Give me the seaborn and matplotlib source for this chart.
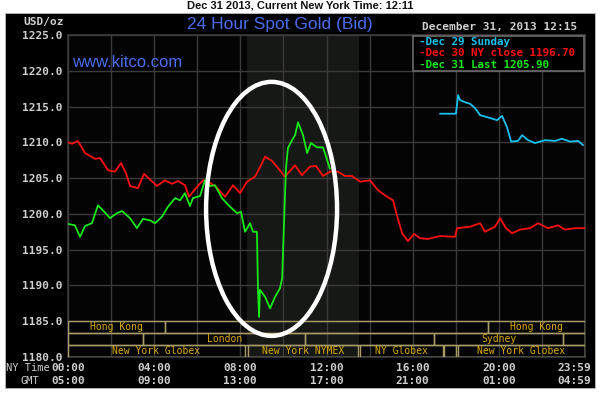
import matplotlib
matplotlib.use("Agg")
import matplotlib.pyplot as plt
import matplotlib.patches as mpatches
import matplotlib.transforms as mtrans
import seaborn as sns
import pandas as pd

# ---------------- data ----------------
red_hours = [0.00, 0.19, 0.46, 0.79, 1.25, 1.49, 1.86, 2.18, 2.46, 2.69, 2.88, 3.25, 3.53, 3.81,
             4.13, 4.50, 4.83, 5.11, 5.43, 5.62, 5.94, 6.27, 6.50, 6.87, 7.29, 7.66, 7.99, 8.31,
             8.68, 8.96, 9.15, 9.47, 9.75, 10.07, 10.54, 10.86, 11.23, 11.51, 11.84, 12.16, 12.53,
             12.86, 13.18, 13.56, 14.02, 14.39, 14.81, 15.09, 15.27, 15.51, 15.78, 16.06, 16.34,
             16.71, 17.27, 17.97, 18.06, 18.66, 19.13, 19.36, 19.82, 20.06, 20.33, 20.61, 20.98,
             21.45, 21.82, 22.28, 22.75, 23.07, 23.54, 24.00]
red_price = [1210.0, 1209.8, 1210.2, 1208.5, 1207.7, 1207.8, 1206.1, 1205.9, 1207.1, 1205.7, 1203.9,
             1203.6, 1205.6, 1204.8, 1203.9, 1204.7, 1204.2, 1204.6, 1204.0, 1202.4, 1203.6, 1204.7,
             1204.5, 1203.8, 1202.4, 1204.0, 1202.9, 1204.5, 1205.2, 1206.8, 1208.0, 1207.4, 1206.4,
             1205.2, 1206.8, 1205.4, 1206.6, 1206.7, 1205.3, 1205.9, 1205.9, 1205.3, 1205.3, 1204.5,
             1204.7, 1203.3, 1202.4, 1201.9, 1199.8, 1197.3, 1196.2, 1197.2, 1196.6, 1196.5, 1196.9,
             1196.8, 1198.0, 1198.2, 1198.7, 1197.5, 1198.2, 1199.4, 1198.0, 1197.3, 1197.8, 1198.0,
             1198.7, 1198.0, 1198.4, 1197.8, 1198.0, 1198.0]

green_hours = [0.00, 0.32, 0.56, 0.79, 1.11, 1.39, 1.62, 1.95, 2.27, 2.51, 2.88, 3.20, 3.48, 3.81,
               4.04, 4.36, 4.64, 4.97, 5.20, 5.43, 5.66, 5.80, 6.13, 6.36, 6.59, 6.82, 7.15, 7.52,
               7.85, 8.03, 8.22, 8.45, 8.59, 8.77, 8.82, 8.87, 8.91, 9.15, 9.38, 9.61, 9.84, 9.94,
               10.07, 10.12, 10.21, 10.40, 10.54, 10.68, 10.91, 11.10, 11.28, 11.56, 11.84, 12.16]
green_price = [1198.6, 1198.4, 1196.8, 1198.3, 1198.7, 1201.2, 1200.5, 1199.4, 1200.1, 1200.4,
               1199.4, 1198.0, 1199.3, 1199.1, 1198.7, 1199.6, 1201.0, 1202.2, 1201.9, 1202.9,
               1201.1, 1202.2, 1202.5, 1204.7, 1203.9, 1204.0, 1202.2, 1201.0, 1200.1, 1200.3,
               1197.5, 1198.7, 1197.5, 1197.5, 1189.4, 1185.6, 1189.4, 1188.4, 1186.8, 1188.4,
               1189.6, 1191.0, 1202.4, 1206.4, 1209.2, 1210.3, 1211.0, 1212.8, 1211.0, 1208.5,
               1209.9, 1209.3, 1209.3, 1206.3]

cyan_hours = [17.27, 18.01, 18.11, 18.20, 18.43, 18.66, 18.89, 19.13, 19.59, 19.92, 20.15, 20.38,
              20.57, 20.89, 21.08, 21.36, 21.68, 22.14, 22.61, 22.93, 23.31, 23.68, 23.91]
cyan_price = [1214.0, 1214.0, 1216.6, 1215.9, 1215.6, 1215.4, 1214.8, 1213.8, 1213.4, 1213.1,
              1213.7, 1212.1, 1210.1, 1210.2, 1211.0, 1210.3, 1209.9, 1210.3, 1210.2, 1210.5,
              1210.1, 1210.2, 1209.6]

ny_labels = ["00:00", "04:00", "08:00", "12:00", "16:00", "20:00", "23:59"]
gmt_labels = ["05:00", "09:00", "13:00", "17:00", "21:00", "01:00", "04:59"]
label_hours = [0, 4, 8, 12, 16, 20, 23.5]
y_ticks = [1180, 1185, 1190, 1195, 1200, 1205, 1210, 1215, 1220, 1225]

legend_lines = ["Dec 29 Sunday", "Dec 30 NY close 1196.70", "Dec 31 Last 1205.90"]
sessions = [  # (row, start, end, label)
    (0, 0.0, 4.5, "Hong Kong"), (0, 4.5, 19.5, ""), (0, 19.5, 24.0, "Hong Kong"),
    (1, 0.0, 3.5, ""), (1, 3.5, 11.0, "London"), (1, 11.0, 17.0, ""),
    (1, 17.0, 23.0, "Sydney"), (1, 23.0, 24.0, ""),
    (2, 0.0, 8.2, "New York Globex"), (2, 8.35, 13.45, "New York NYMEX"),
    (2, 13.55, 17.4, "NY Globex"), (2, 17.45, 18.0, ""), (2, 18.1, 24.0, "New York Globex"),
]

# ---------------- style ----------------
sns.set_theme(style="dark")
plt.rcParams["font.family"] = ["DejaVu Sans"]
MONO = "DejaVu Sans Mono"
RED, GREEN, CYAN = "#ff1010", "#18e818", "#18c0ee"
GRAY_TXT = "#cfcfcf"
GOLD = "#d8a800"
BOXC = "#a89c68"

fig = plt.figure(figsize=(6.0, 3.95), dpi=100)
fig.patch.set_facecolor("white")
# black panel (behind the axes)
panel = mpatches.Rectangle((5 / 600, 1 - 388 / 395), 590 / 600, 375 / 395,
                           transform=fig.transFigure, facecolor="black",
                           edgecolor="#bbbbbb", lw=0.6, zorder=-10)
fig.add_artist(panel)

ax = fig.add_axes([68 / 600, 1 - 357 / 395, 517 / 600, 322 / 395])
ax.set_zorder(1)
ax.set_facecolor("#040404")
ax.set_xlim(0, 24)
ax.set_ylim(1180, 1225)

# NYMEX floor shading
ax.axvspan(8.33, 13.5, color="#161815", lw=0, zorder=0)

# grid
ax.set_xticks(range(0, 25, 2))
ax.set_xticklabels([])
ax.set_yticks(y_ticks)
ax.set_yticklabels([f"{v:.1f}" for v in y_ticks], family=MONO, fontsize=8,
                   color=GRAY_TXT, fontweight="bold")
ax.tick_params(axis="both", length=0, pad=4)
ax.grid(True, color="#3a3a3a", lw=1.0, zorder=1)
for s in ax.spines.values():
    s.set_color("#3a3a3a")

# series
df_red = pd.DataFrame({"h": red_hours, "p": red_price})
df_green = pd.DataFrame({"h": green_hours, "p": green_price})
df_cyan = pd.DataFrame({"h": cyan_hours, "p": cyan_price})
sns.lineplot(data=df_red, x="h", y="p", ax=ax, color=RED, lw=1.3, estimator=None, zorder=3)
sns.lineplot(data=df_green, x="h", y="p", ax=ax, color=GREEN, lw=1.3, estimator=None, zorder=4)
sns.lineplot(data=df_cyan, x="h", y="p", ax=ax, color=CYAN, lw=1.3, estimator=None, zorder=3)
ax.set_xlabel("")
ax.set_ylabel("")

# session boxes
row_h = 5.0 / 3
for row, a, b, lab in sessions:
    top = 1185 - row * row_h
    ax.add_patch(mpatches.Rectangle((a, top - row_h), b - a, row_h, facecolor="none",
                                    edgecolor=BOXC, lw=1.0, zorder=5))
    if lab:
        ax.text((a + b) / 2, top - row_h / 2, lab, ha="center", va="center",
                family=MONO, fontsize=7, color=GOLD, zorder=6)

# highlight ellipse
ax.add_patch(mpatches.Ellipse((9.45, 1200.7), 6.08, 35.5, facecolor="none",
                              edgecolor="white", lw=3.2, zorder=7))

# legend box
ax.add_patch(mpatches.Rectangle((0.667, 0.889), 0.331, 0.109, transform=ax.transAxes,
                                facecolor="black", edgecolor="#6a6a6a", lw=1.2, zorder=8))
for i, (txt, col) in enumerate(zip(legend_lines, [CYAN, RED, GREEN])):
    ax.text(0.679, 0.979 - i * 0.036, "-" + txt, transform=ax.transAxes, ha="left",
            va="center", family=MONO, fontsize=7.8, color=col, fontweight="bold", zorder=9)

# x labels (NY time and GMT)
trans = mtrans.blended_transform_factory(ax.transData, fig.transFigure)
for h, a, g in zip(label_hours, ny_labels, gmt_labels):
    fig.text(h, 1 - 368 / 395, a, transform=trans, ha="center", va="center", family=MONO,
             fontsize=8, color=GRAY_TXT, fontweight="bold")
    fig.text(h, 1 - 381 / 395, g, transform=trans, ha="center", va="center", family=MONO,
             fontsize=8, color=GRAY_TXT, fontweight="bold")
fig.text(28 / 600, 1 - 368 / 395, "NY Time", ha="center", va="center", family=MONO,
         fontsize=7.5, color=GRAY_TXT)
fig.text(30 / 600, 1 - 381 / 395, "GMT", ha="center", va="center", family=MONO,
         fontsize=7.5, color=GRAY_TXT)

# headers
fig.text(300 / 600, 1 - 6 / 395, "Dec 31 2013, Current New York Time: 12:11", ha="center",
         va="center", fontsize=8, fontweight="bold", color="#111111",
         family="Liberation Sans")
fig.text(280 / 600, 1 - 24 / 395, "24 Hour Spot Gold (Bid)", ha="center", va="center",
         fontsize=12.5, color="#4a6cf0", family="Liberation Sans")
fig.text(44 / 600, 1 - 22 / 395, "USD/oz", ha="center", va="center", family=MONO,
         fontsize=8, color=GRAY_TXT, fontweight="bold")
fig.text(500 / 600, 1 - 27 / 395, "December 31, 2013 12:15", ha="center", va="center",
         family=MONO, fontsize=8, color=GRAY_TXT, fontweight="bold")
ax.text(0.008, 0.915, "www.kitco.com", transform=ax.transAxes, ha="left", va="center",
        fontsize=12, color="#4a6cf0", family="Liberation Sans", zorder=10)

fig.savefig("out.png", dpi=100, facecolor=fig.get_facecolor())
